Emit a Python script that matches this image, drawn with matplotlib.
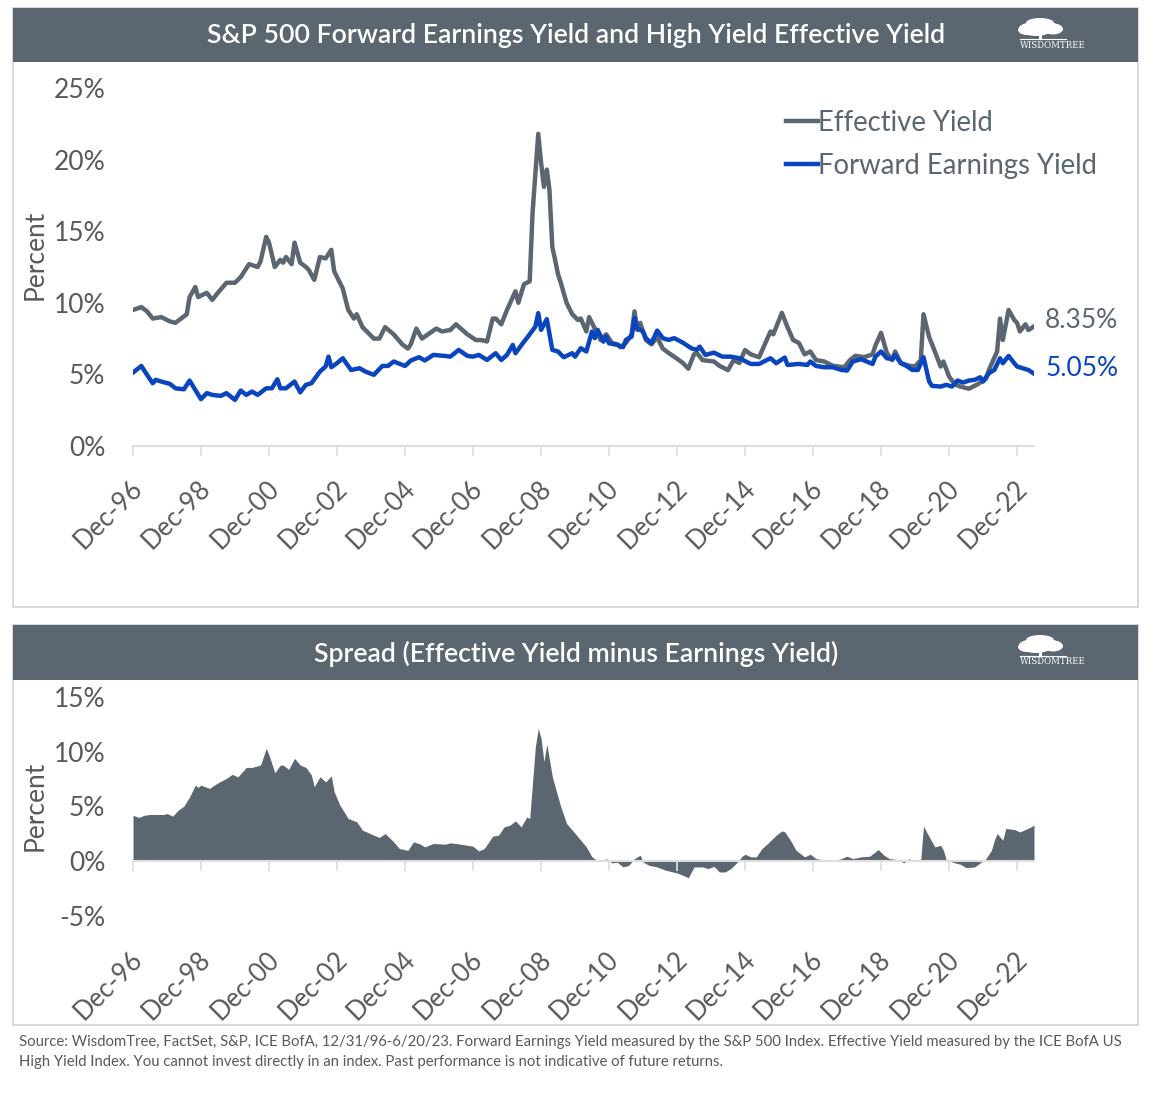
import matplotlib
matplotlib.use('Agg')
import matplotlib.pyplot as plt
import pandas as pd
from matplotlib.patches import Rectangle, Ellipse
from matplotlib.lines import Line2D
from matplotlib.transforms import ScaledTranslation

# ---------------- data ----------------
ey_dates = ['1996-12', '1997-03', '1997-05', '1997-07', '1997-10',
            '1998-01', '1998-03', '1998-05', '1998-07', '1998-08', '1998-10', '1998-11',
            '1999-02', '1999-04', '1999-06', '1999-09', '1999-12',
            '2000-02', '2000-05', '2000-08', '2000-09', '2000-11', '2000-12',
            '2001-02', '2001-04', '2001-05', '2001-06', '2001-08', '2001-09', '2001-11',
            '2002-01', '2002-02', '2002-04', '2002-06', '2002-08', '2002-10', '2002-11',
            '2003-02', '2003-04', '2003-06', '2003-07', '2003-09',
            '2004-01', '2004-03', '2004-05', '2004-08', '2004-11',
            '2005-01', '2005-02', '2005-04', '2005-06', '2005-11',
            '2006-01', '2006-04', '2006-06', '2006-10',
            '2007-01', '2007-03', '2007-05', '2007-07', '2007-08', '2007-10', '2007-12',
            '2008-03', '2008-04', '2008-06', '2008-08', '2008-09', '2008-11', '2008-12',
            '2009-01', '2009-02', '2009-03', '2009-04', '2009-05', '2009-06', '2009-07', '2009-09', '2009-11',
            '2010-01', '2010-02', '2010-04', '2010-05', '2010-07', '2010-09', '2010-11',
            '2011-01', '2011-03', '2011-04', '2011-06', '2011-08', '2011-09', '2011-10', '2011-11',
            '2012-01', '2012-03', '2012-05', '2012-07', '2012-09', '2012-12',
            '2013-02', '2013-04', '2013-06', '2013-07', '2013-09',
            '2014-01', '2014-03', '2014-06', '2014-08', '2014-10', '2014-12',
            '2015-02', '2015-05', '2015-09', '2015-10',
            '2016-01', '2016-03', '2016-05', '2016-07', '2016-09', '2016-11',
            '2017-01', '2017-04', '2017-07', '2017-11',
            '2018-01', '2018-03', '2018-06', '2018-09', '2018-10', '2018-12',
            '2019-02', '2019-04', '2019-05', '2019-07', '2019-10', '2019-12',
            '2020-02', '2020-03', '2020-05', '2020-07', '2020-09', '2020-10', '2020-12',
            '2021-02', '2021-04', '2021-07', '2021-10',
            '2022-01', '2022-02', '2022-05', '2022-06', '2022-07', '2022-09', '2022-11', '2022-12',
            '2023-01', '2023-03', '2023-04', '2023-06']
ey_values = [9.5, 9.7, 9.4, 8.9, 9.0,
             8.7, 8.6, 8.9, 9.2, 10.4, 11.1, 10.4,
             10.7, 10.2, 10.7, 11.4, 11.4,
             11.8, 12.7, 12.5, 12.9, 14.6, 14.2,
             12.5, 13.0, 12.8, 13.2, 12.7, 14.2, 12.8,
             12.5, 12.3, 11.6, 13.2, 13.1, 13.7, 12.2,
             11.0, 9.5, 8.9, 9.2, 8.3,
             7.5, 7.5, 8.3, 7.8, 7.1,
             6.8, 7.1, 8.2, 7.5, 8.2,
             8.0, 8.1, 8.5, 7.8,
             7.4, 7.4, 7.3, 8.9, 8.9, 8.5, 9.5,
             10.8, 10.0, 11.3, 11.5, 16.3, 21.8, 19.8,
             18.1, 19.3, 17.9, 13.9, 13.0, 12.0, 11.4, 10.0, 9.2,
             8.8, 8.9, 8.0, 9.0, 8.2, 7.4, 7.8,
             7.2, 7.1, 6.9, 7.2, 7.8, 9.4, 8.1, 8.6,
             7.4, 7.1, 7.6, 6.8, 6.5, 6.1,
             5.8, 5.4, 6.4, 6.5, 6.0,
             5.9, 5.6, 5.3, 6.0, 5.8, 6.7,
             6.4, 6.2, 8.0, 7.8,
             9.3, 8.3, 7.4, 7.2, 6.4, 6.6,
             6.0, 5.9, 5.6, 5.5,
             6.0, 6.3, 6.2, 6.4, 7.0, 7.9,
             6.5, 6.0, 6.6, 5.8, 5.6, 5.55,
             6.0, 9.2, 7.6, 6.6, 5.55, 5.9, 4.85,
             4.3, 4.15, 4.0, 4.3,
             4.7, 5.3, 6.6, 8.9, 7.4, 9.5, 8.8, 8.6,
             8.0, 8.5, 8.1, 8.35]

fey_dates = ['1996-12', '1997-03', '1997-05', '1997-07', '1997-08', '1997-10',
             '1998-01', '1998-03', '1998-06', '1998-08', '1998-10', '1998-12',
             '1999-02', '1999-04', '1999-07', '1999-09', '1999-12',
             '2000-02', '2000-04', '2000-06', '2000-08', '2000-11',
             '2001-01', '2001-03', '2001-04', '2001-06', '2001-09', '2001-11',
             '2002-01', '2002-03', '2002-06', '2002-08', '2002-09', '2002-10', '2002-12',
             '2003-02', '2003-05', '2003-08', '2003-10',
             '2004-01', '2004-04', '2004-06', '2004-08', '2004-12',
             '2005-02', '2005-05', '2005-07', '2005-10',
             '2006-02', '2006-04', '2006-07', '2006-10', '2006-12',
             '2007-02', '2007-05', '2007-08', '2007-10', '2007-12',
             '2008-02', '2008-03', '2008-06', '2008-07', '2008-10', '2008-11', '2008-12',
             '2009-02', '2009-04', '2009-06', '2009-08', '2009-11', '2009-12',
             '2010-02', '2010-04', '2010-06', '2010-07', '2010-08', '2010-10', '2010-11', '2010-12',
             '2011-03', '2011-05', '2011-06', '2011-08', '2011-09', '2011-10', '2011-12',
             '2012-01', '2012-03', '2012-05', '2012-07', '2012-09', '2012-11',
             '2013-02', '2013-05', '2013-07', '2013-08', '2013-10',
             '2014-01', '2014-04', '2014-07', '2014-10',
             '2015-02', '2015-05', '2015-09', '2015-11',
             '2016-02', '2016-03', '2016-07', '2016-10', '2016-11',
             '2017-01', '2017-04', '2017-07', '2017-10', '2017-12',
             '2018-02', '2018-05', '2018-07', '2018-09', '2018-10', '2018-12',
             '2019-02', '2019-04', '2019-05', '2019-07', '2019-09', '2019-11',
             '2020-01', '2020-02', '2020-03', '2020-05', '2020-06', '2020-09', '2020-11',
             '2021-01', '2021-03', '2021-05', '2021-07', '2021-09', '2021-11', '2021-12',
             '2022-02', '2022-04', '2022-06', '2022-07', '2022-09', '2022-11', '2022-12',
             '2023-02', '2023-04', '2023-06']
fey_values = [5.13, 5.59, 4.97, 4.38, 4.62, 4.5,
              4.34, 4.03, 3.96, 4.57, 3.92, 3.27,
              3.69, 3.57, 3.5, 3.69, 3.22,
              3.87, 3.57, 3.8, 3.57, 4.03,
              4.03, 4.66, 4.03, 4.03, 4.5, 3.75,
              4.27, 4.38, 5.2, 5.55, 6.24, 5.5, 5.78,
              6.13, 5.31, 5.43, 5.2,
              4.97, 5.59, 5.59, 5.9, 5.59,
              5.97, 6.2, 5.97, 6.36,
              6.29, 6.24, 6.71, 6.29, 6.24,
              6.36, 6.01, 6.48, 6.01, 6.36,
              7.06, 6.48, 7.29, 7.53, 8.34, 9.28, 8.11,
              8.86, 6.71, 6.6, 6.2, 6.48, 6.24,
              6.83, 6.6, 7.99, 7.53, 8.11, 7.29, 7.64, 7.18,
              7.06, 6.9, 7.41, 7.64, 8.93, 8.23, 7.99,
              7.53, 7.18, 8.06, 7.53, 7.41, 7.53,
              7.22, 6.83, 6.71, 6.94, 6.36,
              6.52, 6.24, 6.24, 6.13,
              5.73, 5.73, 6.13, 5.78,
              6.18, 5.66, 5.73, 5.66, 5.9,
              5.59, 5.5, 5.5, 5.31, 5.27,
              5.9, 6.06, 5.9, 5.73, 6.24, 6.6,
              6.13, 6.06, 6.36, 5.78, 5.59, 5.31,
              5.31, 5.78, 6.2, 4.5, 4.2, 4.15, 4.27,
              4.15, 4.57, 4.43, 4.57, 4.62, 4.8, 4.5,
              5.08, 5.31, 6.13, 5.78, 6.29, 5.78, 5.55,
              5.43, 5.31, 5.05]

spread_dates = ['1996-12', '1997-02', '1997-04', '1997-06', '1997-11', '1997-12',
                '1998-02', '1998-04', '1998-06', '1998-08', '1998-10', '1998-11', '1998-12',
                '1999-03', '1999-06', '1999-09', '1999-11',
                '2000-01', '2000-04', '2000-06', '2000-09', '2000-11', '2000-12',
                '2001-02', '2001-04', '2001-05', '2001-07', '2001-09', '2001-11',
                '2002-01', '2002-03', '2002-04', '2002-06', '2002-08', '2002-10', '2002-11',
                '2003-01', '2003-04', '2003-07', '2003-09',
                '2004-01', '2004-03', '2004-05', '2004-08', '2004-10',
                '2005-01', '2005-03', '2005-05', '2005-07', '2005-10',
                '2006-02', '2006-04', '2006-06', '2006-10', '2006-12',
                '2007-02', '2007-04', '2007-07', '2007-09', '2007-11',
                '2008-01', '2008-03', '2008-05', '2008-07', '2008-08', '2008-10', '2008-11', '2008-12',
                '2009-01', '2009-02', '2009-04', '2009-07', '2009-09',
                '2010-01', '2010-04', '2010-06', '2010-08', '2010-10', '2010-11',
                '2011-01', '2011-03', '2011-05', '2011-07', '2011-09', '2011-11', '2011-12',
                '2012-02', '2012-05', '2012-08', '2012-12',
                '2013-02', '2013-04', '2013-06', '2013-09', '2013-11',
                '2014-01', '2014-03', '2014-05', '2014-07', '2014-09', '2014-11', '2014-12',
                '2015-02', '2015-04', '2015-06', '2015-08', '2015-11',
                '2016-01', '2016-02', '2016-04', '2016-06', '2016-09', '2016-11',
                '2017-01', '2017-04', '2017-07', '2017-10', '2017-12',
                '2018-02', '2018-05', '2018-08', '2018-11',
                '2019-01', '2019-03', '2019-06', '2019-08', '2019-10', '2019-11',
                '2020-01', '2020-02', '2020-03', '2020-05', '2020-07', '2020-09', '2020-10', '2020-11',
                '2021-02', '2021-04', '2021-06', '2021-09', '2021-11',
                '2022-01', '2022-03', '2022-04', '2022-05', '2022-07', '2022-08', '2022-11',
                '2023-01', '2023-03', '2023-05', '2023-06']
spread_values = [4.2, 4.0, 4.2, 4.27, 4.27, 4.36,
                 4.12, 4.67, 5.03, 5.88, 6.95, 6.74, 6.95,
                 6.65, 7.16, 7.57, 7.93,
                 7.71, 8.57, 8.57, 8.78, 10.31, 9.7,
                 8.08, 8.78, 8.78, 8.39, 9.4, 8.78,
                 8.57, 7.87, 6.8, 7.71, 7.25, 7.78, 6.34,
                 5.12, 3.9, 3.6, 2.84,
                 2.38, 2.17, 2.53, 1.77, 1.16,
                 1.0, 1.77, 1.62, 1.31, 1.62,
                 1.56, 1.68, 1.62, 1.46, 1.37,
                 0.94, 1.16, 2.29, 2.38, 3.14,
                 3.29, 3.69, 3.14, 4.05, 3.9, 10.46, 12.14, 11.23,
                 9.09, 10.7, 7.71, 4.97, 3.45,
                 2.23, 1.31, 0.4, 0.03, 0.1, 0.24,
                 -0.15, -0.1, -0.52, -0.37, 0.24, 0.55, -0.06,
                 -0.37, -0.52, -0.82, -1.07,
                 -1.28, -1.5, -0.52, -0.52, -0.67,
                 -0.46, -0.98, -0.98, -0.67, -0.15, 0.46, 0.64,
                 0.4, 0.4, 1.16, 1.62, 2.38,
                 2.77, 2.68, 1.92, 1.0, 0.4, 0.64,
                 0.24, 0.1, 0.03, 0.24, 0.46,
                 0.24, 0.4, 0.46, 1.07,
                 0.55, 0.24, 0.15, -0.15, 0.24, 0.03,
                 0.1, 0.2, 3.2, 2.23, 1.31, 1.46, 1.0, 0.1,
                 -0.15, -0.27, -0.58, -0.52, -0.15,
                 0.24, 1.0, 1.92, 2.53, 1.92, 2.99, 2.9,
                 2.68, 2.9, 3.14, 3.3]

top_yticks = [0, 5, 10, 15, 20, 25]
bottom_yticks = [-5, 0, 5, 10, 15]
series_labels = ['Effective Yield', 'Forward Earnings Yield']
title_top = 'S&P 500 Forward Earnings Yield and High Yield Effective Yield'
title_bottom = 'Spread (Effective Yield minus Earnings Yield)'
footer = ('Source: WisdomTree, FactSet, S&P, ICE BofA, 12/31/96-6/20/23. Forward Earnings Yield measured by the '
          'S&P 500 Index. Effective Yield measured by the ICE BofA US\n'
          'High Yield Index. You cannot invest directly in an index. Past performance is not indicative of future returns.')

# ---------------- style ----------------
plt.rcParams['font.family'] = ['Lato', 'DejaVu Sans']
GREY = '#5b6670'
BLUE = '#0a45c0'
HEADER = '#5b6670'
TXT = '#595959'
AXIS = '#dedede'

W, H = 1170, 1101
fig = plt.figure(figsize=(W / 100, H / 100), dpi=100)


def fx(x):
    return x / W


def fy(y):
    return 1 - y / H


def rect(x0, y0, x1, y1, **kw):
    fig.add_artist(Rectangle((fx(x0), fy(y1)), (x1 - x0) / W, (y1 - y0) / H,
                             transform=fig.transFigure, **kw))


def logo(ytop):
    cx, cy = 1040, ytop + 20
    for dx, dy, w, h in [(0, 0, 42, 13), (-13, 2, 18, 10), (13, 1, 20, 11), (0, -5, 28, 10), (-4, 4, 24, 8)]:
        fig.add_artist(Ellipse((fx(cx + dx), fy(cy + dy)), w / W, h / H,
                               transform=fig.transFigure, facecolor='white', edgecolor='none'))
    rect(cx - 1.5, cy + 4, cx + 1.5, cy + 11, facecolor='white', edgecolor='none')
    fig.add_artist(Line2D([fx(cx - 20), fx(cx + 26)], [fy(cy + 11), fy(cy + 11)],
                          transform=fig.transFigure, color='white', lw=0.8))
    fig.text(fx(1053), fy(ytop + 37), 'WISDOMTREE', family='DejaVu Serif', fontsize=6.2,
             color='white', ha='center', va='center')


# panel frames and headers
for (y0, y1, yh, title) in [(8, 607, 62, title_top), (625, 1025, 680, title_bottom)]:
    rect(13, y0, 1138, y1, fill=False, edgecolor='#d2d2d2', lw=1.2)
    rect(13, y0, 1138, yh, facecolor=HEADER, edgecolor='none')
    fig.text(fx(576), fy((y0 + yh) / 2 + 1), title, color='white', fontsize=19.2,
             fontweight='semibold', ha='center', va='center')
    logo(y0)

ey_d = pd.to_datetime(ey_dates, format='%Y-%m')
fey_d = pd.to_datetime(fey_dates, format='%Y-%m')
sp_d = pd.to_datetime(spread_dates, format='%Y-%m')
xticks = pd.date_range('1996-12-01', '2022-12-01', freq='24MS')
xlabels = [d.strftime('%b-%y') for d in xticks]
xlim = (ey_d[0], ey_d[-1])


def style_axis(ax, yticks, xpad):
    ax.set_xlim(*xlim)
    ax.set_ylim(yticks[0], yticks[-1])
    for s in ['top', 'right', 'left']:
        ax.spines[s].set_visible(False)
    ax.spines['bottom'].set_color(AXIS)
    ax.spines['bottom'].set_linewidth(1.5)
    ax.set_yticks(yticks)
    ax.set_yticklabels([f'{v}%' for v in yticks])
    ax.set_xticks(xticks)
    ax.set_xticklabels(xlabels)
    ax.tick_params(axis='y', length=0, pad=20, labelsize=19, labelcolor=TXT)
    ax.tick_params(axis='x', length=7, width=1.3, color=AXIS, direction='out', pad=xpad,
                   labelsize=18.5, labelcolor=TXT)
    off = ScaledTranslation(6 / 100, 0, fig.dpi_scale_trans)
    for lbl in ax.get_xticklabels():
        lbl.set_rotation(45)
        lbl.set_ha('right')
        lbl.set_va('center')
        lbl.set_rotation_mode('anchor')
        lbl.set_transform(lbl.get_transform() + off)
    ax.patch.set_visible(False)


# ---------------- top chart ----------------
ax1 = fig.add_axes([fx(133), fy(446), 901 / W, 358 / H])
ax1.plot(ey_d, ey_values, color=GREY, lw=3.2, solid_joinstyle='round')
ax1.plot(fey_d, fey_values, color=BLUE, lw=3.2, solid_joinstyle='round')
style_axis(ax1, top_yticks, 21)
fig.text(fx(35), fy(255), 'Percent', rotation=90, fontsize=19, color=TXT, ha='center', va='center')

leg = ax1.legend(handles=[Line2D([], [], color=GREY, lw=3.2), Line2D([], [], color=BLUE, lw=3.2)],
                 labels=series_labels, loc='upper left', bbox_to_anchor=(fx(786), fy(110)),
                 bbox_transform=fig.transFigure, frameon=False, fontsize=19.8, handlelength=1.15,
                 handletextpad=0.03, labelspacing=0.62, borderpad=0, borderaxespad=0)
for t in leg.get_texts():
    t.set_color(GREY)

ax1.annotate(f'{ey_values[-1]:.2f}%', xy=(ey_d[-1], ey_values[-1]), xytext=(8, 4),
             textcoords='offset points', ha='left', va='center', fontsize=19, color=GREY)
ax1.annotate(f'{fey_values[-1]:.2f}%', xy=(fey_d[-1], fey_values[-1]), xytext=(8, 4),
             textcoords='offset points', ha='left', va='center', fontsize=19, color=BLUE)

# ---------------- bottom chart ----------------
ax2 = fig.add_axes([fx(133), fy(916), 901 / W, 219 / H])
ax2.fill_between(sp_d, spread_values, 0, color=GREY, lw=0)
ax2.spines['bottom'].set_position(('data', 0))
style_axis(ax2, bottom_yticks, 61)
fig.text(fx(35), fy(806), 'Percent', rotation=90, fontsize=19, color=TXT, ha='center', va='center')

# ---------------- footer ----------------
fig.text(fx(19), fy(1035), footer, fontsize=10.75, color=TXT, ha='left', va='top', linespacing=1.55)

fig.savefig('out.png', dpi=100)
